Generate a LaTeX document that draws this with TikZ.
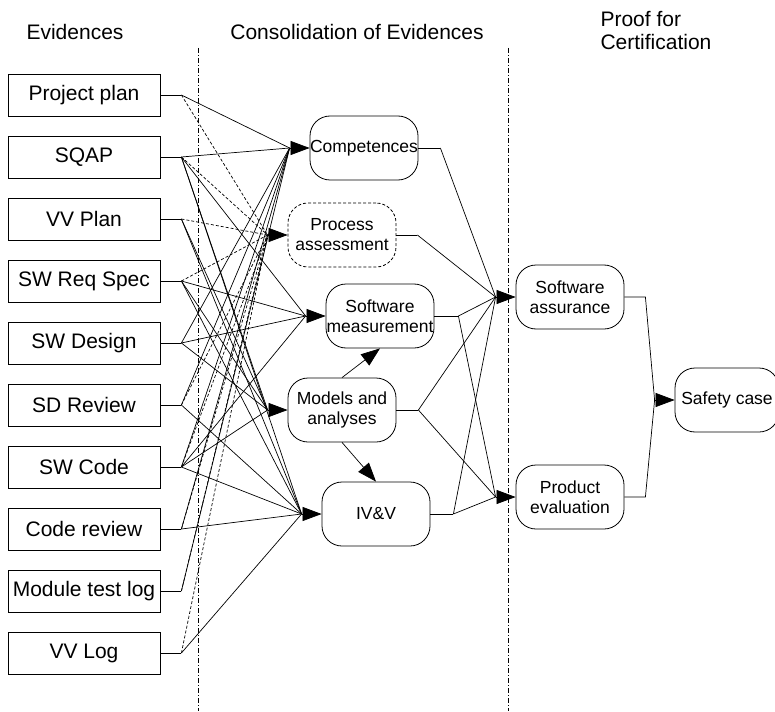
\documentclass[tikz,border=0pt]{standalone}
\usepackage{fontspec}
\setmainfont{Liberation Sans}
\usetikzlibrary{arrows.meta, positioning}
\definecolor{cline}{HTML}{000000}
\tikzset{
  evbox/.style={draw=cline, line width=0.8pt, minimum width=152pt, minimum height=42pt,
                inner sep=0pt, font=\fontsize{21}{24}\selectfont},
  rbox/.style={draw=cline, line width=0.8pt, rounded corners=20pt, minimum width=108pt,
               minimum height=64pt, inner xsep=0pt, align=center,
               font=\fontsize{17.5}{20}\selectfont},
  link/.style={cline, line width=0.7pt},
  dlink/.style={cline, line width=0.7pt, dash pattern=on 3pt off 2pt},
  arr/.style={-{Triangle[length=19pt,width=14pt]}, cline, line width=0.7pt},
  sep/.style={cline, line width=0.6pt, dash pattern=on 5pt off 2pt on 1pt off 2pt},
}

\begin{document}
\begin{tikzpicture}[x=1pt, y=-1pt, every node/.style={font=\fontsize{21}{24}\selectfont}]
  \useasboundingbox (0,0) rectangle (775,711);

  % column titles
  \node (hev) at (75,32) {Evidences};
  \node (hcon) at (357,32) {Consolidation of Evidences};
  \node[anchor=west, align=left, font=\fontsize{21}{23}\selectfont] (hproof) at (597,31)
    {Proof for\\Certification};

  \draw[sep] (198,48) -- (198,711);
  \draw[sep] (508,48) -- (508,711);

  % evidences
  \foreach \n/\t [count=\i from 0] in {plan/Project plan, sqap/SQAP, vvplan/VV Plan,
      req/SW Req Spec, design/SW Design, sdrev/SD Review, code/SW Code,
      crev/Code review, mtlog/Module test log, vvlog/VV Log} {
    \node[evbox] (\n) at (84,95+62*\i) {\t};
    \draw[link] (\n.east) -- ++(21,0) coordinate (\n-s);
  }

  % consolidation
  \node[rbox] (comp) at (364,148) {Competences};
  \node[rbox, dash pattern=on 3pt off 2pt] (pa) at (342,235) {Process\\assessment};
  \node[rbox] (sm) at (380,316) {Software\\measurement};
  \node[rbox] (ma) at (342,410) {Models and\\analyses};
  \node[rbox] (ivv) at (376,514) {IV\&V};

  \foreach \n in {comp, pa, sm, ma, ivv} {
    \coordinate (\n-j) at ([xshift=-20pt]\n.west);
    \draw[arr] (\n-j) -- (\n.west);
  }

  \foreach \s/\t in {plan/comp, sqap/comp, sqap/sm, sqap/ma, sqap/ivv,
      vvplan/ma, vvplan/ivv, req/sm, req/ma, req/ivv, design/comp, design/sm,
      design/ma, sdrev/comp, sdrev/ivv, code/comp, code/sm, code/ma, code/ivv,
      crev/comp, crev/ivv, mtlog/comp, vvlog/ivv}
    \draw[link] (\s-s) -- (\t-j);
  \foreach \s in {plan, sqap, vvplan, req, sdrev, code, crev, mtlog, vvlog}
    \draw[dlink] (\s-s) -- (pa-j);

  \draw[arr] (ma.north) -- (sm.south);
  \draw[arr] (ma.south) -- (ivv.north);

  % proof
  \node[rbox] (sa) at (570,297) {Software\\assurance};
  \node[rbox] (pe) at (570,497) {Product\\evaluation};
  \node[rbox, minimum width=104pt] (safe) at (727,400) {Safety case};

  \foreach \n in {sa, pe, safe} {
    \coordinate (\n-j) at ([xshift=-20pt]\n.west);
    \draw[arr] (\n-j) -- (\n.west);
  }

  \foreach \n/\d in {comp/22, pa/21, sm/24, ma/22, ivv/23}
    \draw[link] (\n.east) -- ++(\d,0) coordinate (\n-s);
  \foreach \s/\t in {comp/sa, pa/sa, sm/sa, sm/pe, ma/sa, ma/pe, ivv/sa, ivv/pe}
    \draw[link] (\s-s) -- (\t-j);

  \draw[link] (sa.east) -- ++(21,0) coordinate (sa-s) -- (safe-j);
  \draw[link] (pe.east) -- ++(21,0) coordinate (pe-s) -- (safe-j);
\end{tikzpicture}
\end{document}
